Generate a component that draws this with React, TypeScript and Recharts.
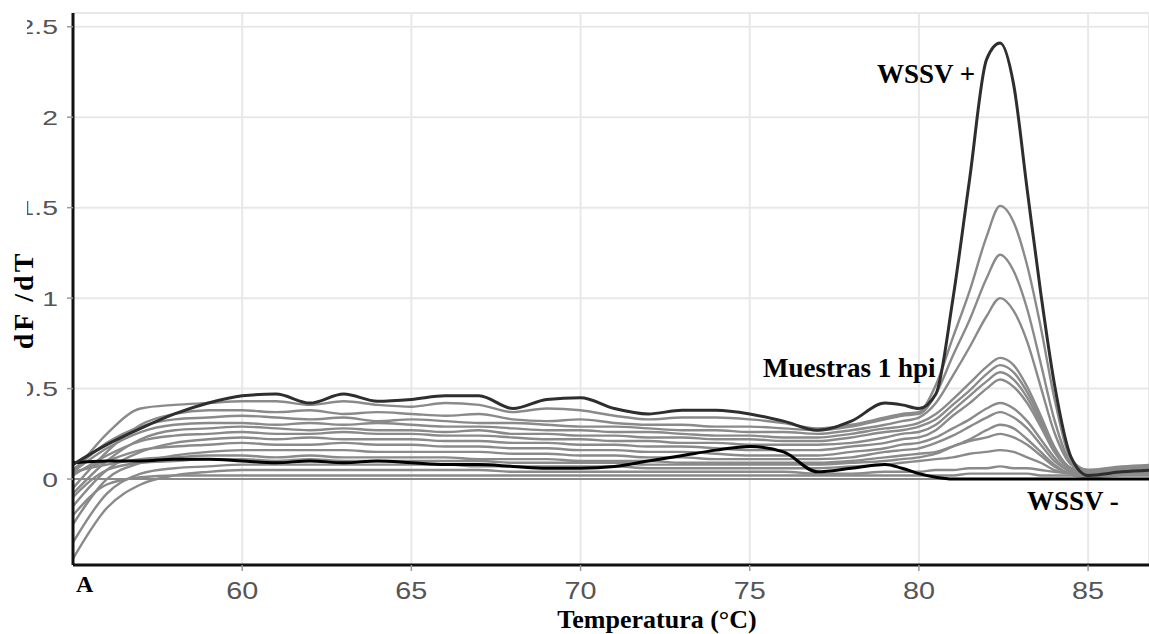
import React from "react";
import {
  LineChart,
  Line,
  XAxis,
  YAxis,
  CartesianGrid,
  ReferenceLine,
} from "recharts";

// temperature grid (°C)
const temps = [
  55, 56, 57, 58, 59, 60, 61, 62, 63, 64,
  65, 66, 67, 68, 69, 70, 71, 72, 73, 74,
  75, 76, 77, 78, 79,
  79.5, 80, 80.5, 81, 81.5, 82, 82.4, 82.8, 83.2, 83.6, 84, 84.5, 85,
  86, 87,
];

// WSSV + control
const wssvPos = [
  0.08, 0.19, 0.28, 0.36, 0.42, 0.46, 0.47, 0.42, 0.47, 0.43,
  0.44, 0.46, 0.46, 0.39, 0.44, 0.45, 0.39, 0.36, 0.38, 0.38,
  0.36, 0.32, 0.27, 0.32, 0.42,
  0.41, 0.39, 0.47, 0.99, 1.66, 2.32, 2.41, 2.18, 1.6, 1.03, 0.53, 0.12, 0.02,
  0.04, 0.05,
];

// WSSV - control
const wssvNeg = [
  0.09, 0.1, 0.1, 0.11, 0.11, 0.1, 0.09, 0.1, 0.09, 0.1,
  0.09, 0.08, 0.08, 0.07, 0.06, 0.06, 0.07, 0.1, 0.13, 0.16,
  0.18, 0.15, 0.04, 0.06, 0.08,
  0.06, 0.03, 0.01, 0, 0, 0, 0, 0, 0, 0, 0, 0, 0,
  0, 0,
];

// samples 1 hpi
const s1 = [
  0.03, 0.25, 0.39, 0.41, 0.42, 0.43, 0.43, 0.41, 0.43, 0.41,
  0.4, 0.42, 0.41, 0.37, 0.39, 0.38, 0.35, 0.33, 0.34, 0.34,
  0.33, 0.31, 0.28, 0.3, 0.34,
  0.36, 0.37, 0.52, 0.78, 1.04, 1.34, 1.51, 1.42, 1.18, 0.84, 0.45, 0.11, 0.05,
  0.07, 0.08,
];
const s2 = [
  -0.05, 0.15, 0.3, 0.36, 0.38, 0.38, 0.37, 0.38, 0.36, 0.37,
  0.36, 0.35, 0.36, 0.33, 0.32, 0.33, 0.31, 0.3, 0.3, 0.29,
  0.29, 0.28, 0.27, 0.29, 0.33,
  0.35, 0.36, 0.47, 0.68, 0.88, 1.11, 1.24, 1.15, 0.94, 0.64, 0.33, 0.09, 0.05,
  0.06, 0.07,
];
const s3 = [
  0.05, 0.2, 0.29, 0.33, 0.34, 0.35, 0.34, 0.33, 0.34, 0.32,
  0.33, 0.32, 0.31, 0.31, 0.3, 0.29, 0.29, 0.28, 0.27, 0.27,
  0.26, 0.26, 0.25, 0.27, 0.3,
  0.32, 0.34, 0.42, 0.57, 0.73, 0.9, 1.0, 0.93, 0.76, 0.51, 0.26, 0.08, 0.04,
  0.05, 0.06,
];
const s4 = [
  0.04, 0.17, 0.26, 0.3, 0.31, 0.31, 0.3, 0.31, 0.3, 0.31,
  0.3, 0.29, 0.29, 0.28, 0.27, 0.27, 0.26, 0.26, 0.25, 0.24,
  0.24, 0.23, 0.23, 0.25, 0.28,
  0.29, 0.31, 0.36, 0.44, 0.53, 0.62, 0.67, 0.63, 0.51, 0.35, 0.18, 0.06, 0.04,
  0.05, 0.06,
];
const s5 = [
  -0.08, 0.1, 0.22, 0.27, 0.28, 0.29, 0.28, 0.27, 0.28, 0.27,
  0.27, 0.26, 0.27, 0.25, 0.25, 0.24, 0.24, 0.23, 0.23, 0.22,
  0.22, 0.21, 0.21, 0.23, 0.26,
  0.27, 0.29, 0.33, 0.41, 0.49, 0.58, 0.63, 0.59, 0.48, 0.33, 0.17, 0.06, 0.04,
  0.06, 0.07,
];
const s6 = [
  0.02, 0.13, 0.21, 0.24, 0.25, 0.26, 0.25, 0.25, 0.26, 0.25,
  0.25, 0.24, 0.24, 0.23, 0.22, 0.22, 0.21, 0.21, 0.2, 0.2,
  0.19, 0.19, 0.19, 0.2, 0.23,
  0.25, 0.26, 0.3, 0.38, 0.46, 0.54, 0.59, 0.55, 0.45, 0.31, 0.16, 0.05, 0.03,
  0.05, 0.06,
];
const s7 = [
  -0.15, 0.05, 0.15, 0.2, 0.22, 0.23, 0.22, 0.23, 0.22, 0.22,
  0.22, 0.21, 0.21, 0.2, 0.2, 0.19, 0.19, 0.18, 0.18, 0.17,
  0.16, 0.16, 0.16, 0.18, 0.2,
  0.22, 0.23, 0.27, 0.35, 0.42, 0.5, 0.55, 0.51, 0.42, 0.29, 0.15, 0.05, 0.03,
  0.05, 0.06,
];
const s8 = [
  0.03, 0.1, 0.16, 0.18, 0.19, 0.2, 0.19, 0.19, 0.2, 0.19,
  0.19, 0.18, 0.18, 0.17, 0.17, 0.16, 0.16, 0.15, 0.15, 0.14,
  0.13, 0.13, 0.13, 0.15, 0.17,
  0.19, 0.2, 0.23, 0.28, 0.33, 0.39, 0.42, 0.39, 0.32, 0.22, 0.12, 0.04, 0.03,
  0.04, 0.05,
];
const s9 = [
  -0.25, 0.0, 0.09, 0.13, 0.15, 0.16, 0.16, 0.16, 0.16, 0.15,
  0.15, 0.15, 0.15, 0.14, 0.14, 0.13, 0.13, 0.12, 0.12, 0.11,
  0.11, 0.11, 0.11, 0.12, 0.15,
  0.16, 0.17, 0.2, 0.24, 0.29, 0.34, 0.37, 0.34, 0.28, 0.19, 0.1, 0.04, 0.02,
  0.04, 0.05,
];
const s10 = [
  0.04, 0.08, 0.11, 0.12, 0.13, 0.13, 0.12, 0.13, 0.12, 0.12,
  0.12, 0.12, 0.11, 0.11, 0.11, 0.1, 0.1, 0.1, 0.09, 0.09,
  0.09, 0.09, 0.09, 0.1, 0.12,
  0.13, 0.14, 0.15, 0.18, 0.21, 0.23, 0.25, 0.23, 0.19, 0.13, 0.07, 0.03, 0.02,
  0.04, 0.05,
];
const s11 = [
  -0.35, -0.08, 0.03, 0.06, 0.07, 0.08, 0.08, 0.08, 0.08, 0.08,
  0.08, 0.08, 0.07, 0.07, 0.07, 0.07, 0.07, 0.06, 0.06, 0.06,
  0.06, 0.06, 0.06, 0.07, 0.08,
  0.09, 0.1, 0.11, 0.12, 0.14, 0.15, 0.16, 0.15, 0.12, 0.09, 0.05, 0.03, 0.02,
  0.03, 0.04,
];
const s12 = [
  -0.44, -0.16, -0.03, 0.02, 0.04, 0.05, 0.05, 0.05, 0.05, 0.05,
  0.05, 0.05, 0.05, 0.04, 0.04, 0.04, 0.04, 0.04, 0.04, 0.04,
  0.04, 0.04, 0.03, 0.03, 0.04,
  0.04, 0.04, 0.05, 0.05, 0.06, 0.06, 0.07, 0.06, 0.06, 0.05, 0.04, 0.03, 0.02,
  0.03, 0.03,
];
const s13 = [
  -0.2, -0.03, 0.01, 0.02, 0.02, 0.02, 0.02, 0.02, 0.02, 0.02,
  0.02, 0.02, 0.02, 0.02, 0.02, 0.02, 0.02, 0.02, 0.02, 0.02,
  0.02, 0.02, 0.02, 0.02, 0.02,
  0.02, 0.02, 0.02, 0.02, 0.03, 0.03, 0.03, 0.03, 0.03, 0.02, 0.02, 0.02, 0.01,
  0.02, 0.02,
];
const s14 = [
  -0.1, 0.05, 0.09, 0.1, 0.11, 0.11, 0.1, 0.11, 0.1, 0.1,
  0.1, 0.1, 0.1, 0.09, 0.09, 0.09, 0.09, 0.08, 0.08, 0.08,
  0.08, 0.08, 0.08, 0.09, 0.1,
  0.11, 0.12, 0.14, 0.18, 0.22, 0.27, 0.3, 0.28, 0.22, 0.15, 0.08, 0.03, 0.02,
  0.04, 0.05,
];

const samples = [s1, s2, s3, s4, s5, s6, s7, s8, s9, s10, s11, s12, s13, s14];

const xTicks = [60, 65, 70, 75, 80, 85];
const yTicks = [0, 0.5, 1, 1.5, 2, 2.5];

const data = temps.map((t, i) => {
  const row: Record<string, number> = { t, pos: wssvPos[i], neg: wssvNeg[i] };
  samples.forEach((s, j) => {
    row["s" + j] = s[i];
  });
  return row;
});

const serif = "'Liberation Serif', 'Times New Roman', serif";
const sans = "'Liberation Sans', Arial, sans-serif";

const XTick = (props: any) => {
  const { x, y, payload } = props;
  return (
    <text
      transform={`translate(${x},${y}) scale(1.2,1)`}
      textAnchor="middle"
      dy="0.71em"
      fontSize={24}
      fill="#555"
      fontFamily={sans}
    >
      {payload.value}
    </text>
  );
};

const YTick = (props: any) => {
  const { x, y, payload } = props;
  return (
    <text
      transform={`translate(${x},${y}) scale(1.35,1)`}
      textAnchor="end"
      dy="0.355em"
      fontSize={21}
      fill="#555"
      fontFamily={sans}
    >
      {payload.value}
    </text>
  );
};

export default function App() {
  return (
    <div
      style={{
        position: "absolute",
        left: 0,
        top: 0,
        width: 1149,
        height: 634,
        background: "#fff",
        overflow: "hidden",
      }}
    >
      <LineChart
        width={1149}
        height={634}
        data={data}
        margin={{ top: 13, right: 0, bottom: 0, left: 0 }}
      >
        <CartesianGrid stroke="#e8e8e8" strokeWidth={2} />
        <XAxis
          dataKey="t"
          type="number"
          domain={[55, 86.8]}
          ticks={xTicks}
          allowDataOverflow
          height={69}
          tickSize={6}
          tickMargin={11}
          tick={<XTick />}
          axisLine={{ stroke: "#111", strokeWidth: 3 }}
          tickLine={{ stroke: "#999", strokeWidth: 1.5 }}
        />
        <YAxis
          type="number"
          domain={[-0.475, 2.576]}
          ticks={yTicks}
          allowDataOverflow
          width={73}
          tickSize={6}
          tickMargin={9}
          tick={<YTick />}
          axisLine={{ stroke: "#111", strokeWidth: 3 }}
          tickLine={{ stroke: "#999", strokeWidth: 1.5 }}
        />
        <ReferenceLine y={0} stroke="#8a8a8a" strokeWidth={2} />
        {samples.map((_, j) => (
          <Line
            key={j}
            dataKey={"s" + j}
            type="monotone"
            stroke="#8a8a8a"
            strokeWidth={2.4}
            dot={false}
            isAnimationActive={false}
          />
        ))}
        <Line
          dataKey="neg"
          type="monotone"
          stroke="#000"
          strokeWidth={3}
          dot={false}
          isAnimationActive={false}
        />
        <Line
          dataKey="pos"
          type="monotone"
          stroke="#2e2e2e"
          strokeWidth={3}
          dot={false}
          isAnimationActive={false}
        />
      </LineChart>
      <svg
        width={1149}
        height={634}
        style={{ position: "absolute", left: 0, top: 0, pointerEvents: "none" }}
      >
        <rect x={0} y={0} width={27} height={560} fill="#fff" />
        <g fontFamily={serif} fontWeight="bold" fill="#000">
          <text
            transform="translate(33,300) rotate(-90)"
            textAnchor="middle"
            fontSize={28}
            letterSpacing={3}
          >
            dF /dT
          </text>
          <text x={657} y={628} textAnchor="middle" fontSize={26}>
            Temperatura (°C)
          </text>
          <text x={76} y={592} fontSize={24}>
            A
          </text>
          <text x={877} y={83} fontSize={27}>
            WSSV +
          </text>
          <text x={763} y={377} fontSize={27}>
            Muestras 1 hpi
          </text>
          <text x={1027} y={510} fontSize={27}>
            WSSV -
          </text>
        </g>
      </svg>
    </div>
  );
}
